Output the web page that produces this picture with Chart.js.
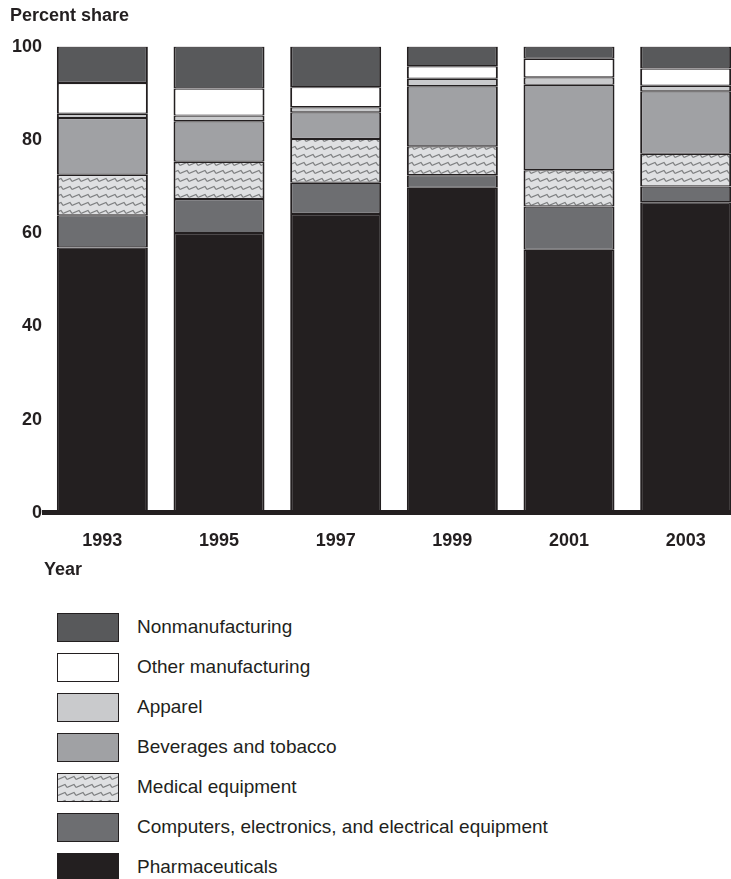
<!DOCTYPE html>
<html>
<head>
<meta charset="utf-8">
<script src="https://cdn.jsdelivr.net/npm/chart.js@4.4.1/dist/chart.umd.min.js"></script>
<style>
    body {
        margin: 0;
        background: #fff;
        width: 731px;
        height: 879px;
        overflow: hidden;
        position: relative;
        font-family: "Liberation Sans", Arial, Helvetica, sans-serif;
        color: #231f20;
    }
    #chart {
        position: absolute;
        left: 0;
        top: 0;
    }
    .legend {
        position: absolute;
        left: 57px;
        top: 612px;
    }
    .legend__item {
        display: flex;
        align-items: center;
        height: 30px;
        margin-bottom: 10px;
    }
    .legend__box {
        width: 60px;
        height: 27px;
        border: 1.5px solid #231f20;
        flex: none;
    }
    .legend__text {
        margin-left: 18px;
        font-size: 19px;
        white-space: nowrap;
    }
</style>
</head>
<body>
<canvas id="chart" width="760" height="581"></canvas>
<div class="legend" id="legend"></div>

<script>
// data, bottom of the stack first
const years = ['1993', '1995', '1997', '1999', '2001', '2003'];
const yTicks = [0, 20, 40, 60, 80, 100];

const pharmaceuticals = [56.9, 60.0, 64.1, 69.7, 56.4, 66.6];
const computers = [6.9, 7.3, 6.7, 2.7, 9.3, 3.4];
const medical = [8.7, 8.0, 9.4, 6.2, 7.8, 7.0];
const beverages = [12.2, 8.7, 5.7, 12.9, 18.3, 13.4];
const apparel = [0.9, 1.2, 1.1, 1.6, 1.6, 1.2];
const otherManufacturing = [6.6, 5.8, 4.3, 2.7, 4.0, 3.7];
const nonmanufacturing = [7.8, 9.0, 8.7, 4.2, 2.6, 4.7];

const ink = '#231f20';

// zigzag fill for medical equipment
const tile = document.createElement('canvas');
tile.width = 9;
tile.height = 8;
const tctx = tile.getContext('2d');
tctx.fillStyle = '#dfe0e2';
tctx.fillRect(0, 0, 9, 8);
tctx.strokeStyle = '#7f8082';
tctx.lineWidth = 1.3;
tctx.beginPath();
tctx.moveTo(0, 5.5);
tctx.lineTo(7, 2.5);
tctx.lineTo(9, 5.5);
tctx.stroke();

const ctx = document.getElementById('chart').getContext('2d');
const zigzag = ctx.createPattern(tile, 'repeat');

const series = [
    {label: 'Pharmaceuticals', data: pharmaceuticals, color: '#231f20'},
    {label: 'Computers, electronics, and electrical equipment', data: computers, color: '#6d6e71'},
    {label: 'Medical equipment', data: medical, color: zigzag, css: 'url(' + tile.toDataURL() + ')'},
    {label: 'Beverages and tobacco', data: beverages, color: '#a0a1a4'},
    {label: 'Apparel', data: apparel, color: '#c9cacc'},
    {label: 'Other manufacturing', data: otherManufacturing, color: '#ffffff'},
    {label: 'Nonmanufacturing', data: nonmanufacturing, color: '#58595b'},
];

const font = {family: '"Liberation Sans", Arial, Helvetica, sans-serif', size: 18, weight: 'bold'};

const myChart = new Chart(ctx, {
    type: 'bar',
    data: {
        labels: years,
        datasets: series.map(function (s) {
            return {
                label: s.label,
                data: s.data,
                backgroundColor: s.color,
                borderColor: ink,
                borderWidth: {top: 1.2, bottom: 1.2, left: 2, right: 2},
                borderSkipped: false,
                categoryPercentage: 1,
                barPercentage: 0.78,
            };
        })
    },
    options: {
        responsive: false,
        animation: false,
        layout: {
            padding: {left: 10, right: 16, top: 0, bottom: 0}
        },
        plugins: {
            legend: {display: false},
            tooltip: {enabled: false},
            title: {
                display: true,
                text: 'Percent share',
                align: 'start',
                color: ink,
                font: font,
                padding: {top: 5, bottom: 20}
            }
        },
        scales: {
            x: {
                stacked: true,
                grid: {display: false, drawTicks: false},
                border: {display: true, color: ink, width: 5, z: 1},
                ticks: {color: ink, font: font, padding: 17},
                title: {
                    display: true,
                    text: 'Year',
                    align: 'start',
                    color: ink,
                    font: font,
                    // tick padding is counted twice by the axis fit, pull the title back up
                    padding: {top: -9, bottom: 0}
                }
            },
            y: {
                stacked: true,
                min: 0,
                max: 100,
                grid: {display: false, drawTicks: false},
                border: {display: false},
                afterBuildTicks: function (scale) {
                    scale.ticks = yTicks.map(function (v) {
                        return {value: v};
                    });
                },
                ticks: {color: ink, font: font, padding: 2}
            }
        }
    }
});

// legend, top to bottom
const legend = document.getElementById('legend');
series.slice().reverse().forEach(function (s) {
    const item = document.createElement('div');
    item.className = 'legend__item';
    const box = document.createElement('div');
    box.className = 'legend__box';
    box.style.background = s.css || s.color;
    const text = document.createElement('div');
    text.className = 'legend__text';
    text.textContent = s.label;
    item.appendChild(box);
    item.appendChild(text);
    legend.appendChild(item);
});
</script>
</body>
</html>
